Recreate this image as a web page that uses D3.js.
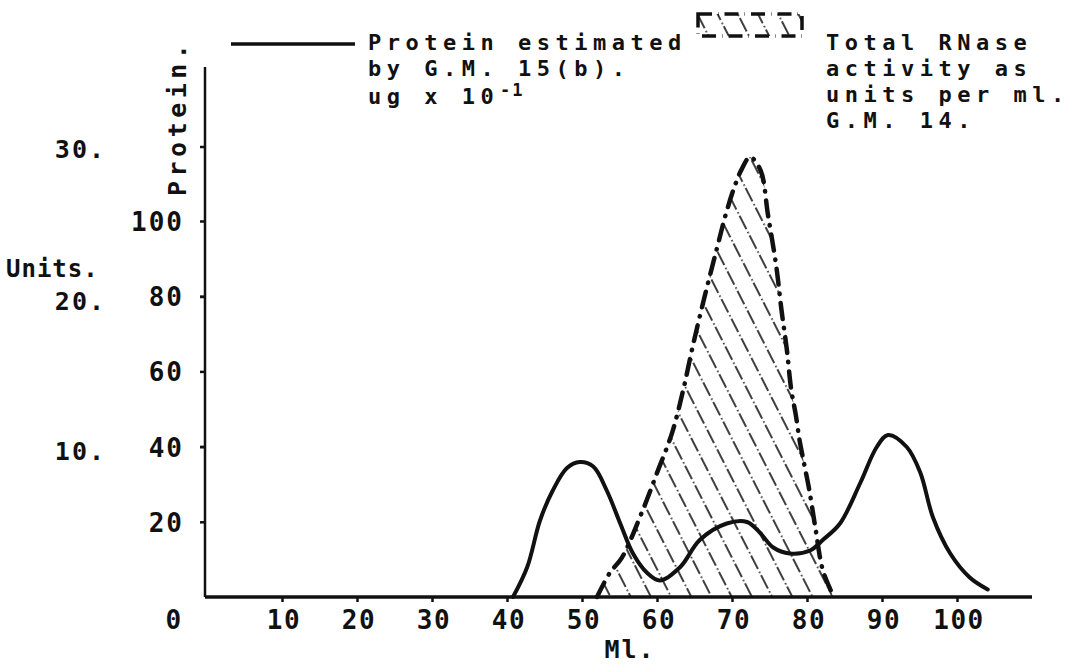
<!DOCTYPE html>
<html><head><meta charset="utf-8">
<script src="https://cdn.jsdelivr.net/npm/d3@7"></script>
<style>
body{margin:0;background:#fff;}
svg{display:block;}
text{font-family:"DejaVu Sans Mono",monospace;fill:#111;font-weight:bold;}
</style></head>
<body>
<svg id="chart" width="1071" height="672"></svg>
<script>
// ---- data ----
const proteinMl  = [40.8,42.7,44.4,46.1,48.0,49.7,51.5,53.3,55.1,56.8,58.7,60.4,63.1,65.7,69.3,72.0,73.7,75.5,77.7,80.4,82.1,84.4,87.1,89.3,90.8,93.3,95.1,96.8,99.1,101.7,104.1];
const proteinVal = [0,2.0,5.1,7.1,8.6,9.0,8.7,7.1,4.9,2.9,1.6,1.1,2.0,3.8,4.9,5.0,4.3,3.3,2.9,3.1,3.8,4.9,7.6,10.0,10.8,10.0,8.3,5.3,2.9,1.3,0.5];
const rnaseMl  = [52.0,53.7,55.3,58.1,60.0,62.0,63.5,64.8,66.4,68.0,69.2,70.4,71.3,72.4,73.8,74.8,75.9,76.6,77.3,77.9,78.5,79.0,79.6,80.3,81.1,82.1,83.3,83.5];
const rnaseVal = [0,6.4,10.4,23.1,33.0,43.6,55.1,67.0,80.3,92.8,102.0,109.5,113.8,117.0,113.5,101.6,88.0,76.3,66.0,55.1,48.5,41.8,35.6,28.5,18.6,7.2,1.1,0];
const xTicks = [10,20,30,40,50,60,70,80,90,100];
const unitTicks = [20,40,60,80,100];
const proteinTicks = [10,20,30];
const proteinTickLabels = ["10.","20.","30."];
const legendProteinLines = ["Protein estimated","by G.M. 15(b)."];
const legendRnaseLines = ["Total RNase","activity as","units per ml.","G.M. 14."];

// ---- scales ----
const svg = d3.select("#chart");
const x  = d3.scaleLinear().domain([0,100]).range([207,957]);
const yU = d3.scaleLinear().domain([0,100]).range([597,221]);
const yP = d3.scaleLinear().domain([0,30]).range([597,147]);

// hatch pattern
const defs = svg.append("defs");
const pat = defs.append("pattern").attr("id","hatch").attr("patternUnits","userSpaceOnUse")
  .attr("width",18).attr("height",44).attr("patternTransform","rotate(-27)");
pat.append("line").attr("x1",3).attr("y1",0).attr("x2",3).attr("y2",44)
  .attr("stroke","#000").attr("stroke-width",1.5).attr("stroke-dasharray","15,3,1.5,2.5");

// RNase area + outline
const rn = rnaseMl.map((m,i)=>[m,rnaseVal[i]]);
const area = d3.area().x(d=>x(d[0])).y0(yU(0)).y1(d=>yU(d[1])).curve(d3.curveCatmullRom);
svg.append("path").datum(rn).attr("d",area).attr("fill","url(#hatch)");
const rline = d3.line().x(d=>x(d[0])).y(d=>yU(d[1])).curve(d3.curveCatmullRom);
svg.append("path").datum(rn).attr("d",rline).attr("fill","none").attr("stroke","#111")
  .attr("stroke-width",4.5).attr("stroke-linecap","round").attr("stroke-dasharray","16,9,0.5,9");

// protein curve
const pr = proteinMl.map((m,i)=>[m,proteinVal[i]]);
const pline = d3.line().x(d=>x(d[0])).y(d=>yP(d[1])).curve(d3.curveCatmullRom);
svg.append("path").datum(pr).attr("d",pline).attr("fill","none").attr("stroke","#111")
  .attr("stroke-width",4).attr("stroke-linejoin","round").attr("stroke-linecap","round");

// axes
const xAxis = d3.axisBottom(x).tickValues(xTicks).tickSize(5).tickSizeOuter(0).tickFormat("");
const gx = svg.append("g").attr("transform",`translate(0,${yU(0)})`).call(xAxis);
gx.select(".domain").remove();
gx.selectAll(".tick line").attr("stroke","#111").attr("stroke-width",2.5);
svg.append("line").attr("x1",x(0)-2).attr("x2",x(110)).attr("y1",yU(0)).attr("y2",yU(0))
  .attr("stroke","#111").attr("stroke-width",3.5);
svg.selectAll("text.xt").data(xTicks).join("text").attr("class","xt")
  .attr("x",d=>x(d)+2).attr("y",yU(0)+32).attr("text-anchor","middle")
  .style("font-size","26px").style("letter-spacing","1.5px").text(d=>d);
svg.append("text").attr("x",x(-4.5)).attr("y",yU(0)+32).attr("text-anchor","middle")
  .style("font-size","26px").text("0");

const yAxis = d3.axisLeft(yU).tickValues(unitTicks).tickSize(5).tickSizeOuter(0).tickFormat("");
const gy = svg.append("g").attr("transform",`translate(${x(0)-2},0)`).call(yAxis);
gy.select(".domain").remove();
gy.selectAll(".tick line").attr("stroke","#111").attr("stroke-width",2.5);
svg.append("line").attr("x1",x(0)-2).attr("x2",x(0)-2).attr("y1",yU(0)).attr("y2",67)
  .attr("stroke","#111").attr("stroke-width",2.5);
svg.selectAll("line.pt").data(proteinTicks).join("line").attr("class","pt")
  .attr("x1",x(0)-7).attr("x2",x(0)-2).attr("y1",d=>yP(d)).attr("y2",d=>yP(d))
  .attr("stroke","#111").attr("stroke-width",2.5);
svg.selectAll("text.ut").data(unitTicks).join("text").attr("class","ut")
  .attr("x",184).attr("y",d=>yU(d)+10).attr("text-anchor","end")
  .style("font-size","26px").style("letter-spacing","2px").text(d=>d);
svg.selectAll("text.ptl").data(proteinTicks).join("text").attr("class","ptl")
  .attr("x",106).attr("y",(d,i)=>yP(d)+ (d===30?11:13)).attr("text-anchor","end")
  .style("font-size","25px").style("letter-spacing","2px").text((d,i)=>proteinTickLabels[i]);
svg.append("text").attr("x",6).attr("y",277).style("font-size","24px").style("letter-spacing","1px").text("Units.");
svg.append("text").attr("transform","translate(186,196) rotate(-90)")
  .style("font-size","25px").style("letter-spacing","4.5px").text("Protein.");
svg.append("text").attr("x",630).attr("y",658).attr("text-anchor","middle")
  .style("font-size","25px").style("letter-spacing","2px").text("Ml.");

// legend
svg.append("line").attr("x1",231).attr("x2",355).attr("y1",44).attr("y2",44)
  .attr("stroke","#111").attr("stroke-width",3.5);
const lp = svg.append("g");
lp.selectAll("text").data(legendProteinLines).join("text").attr("x",368).attr("y",(d,i)=>50+i*26)
  .style("font-size","22px").style("letter-spacing","5.5px").text(d=>d);
const l3 = lp.append("text").attr("x",368).attr("y",104).style("font-size","22px").style("letter-spacing","5.5px");
l3.append("tspan").text("ug x 10");
l3.append("tspan").attr("x",500).attr("dy",-8).style("font-size","17px").style("letter-spacing","2px").text("-1");
svg.append("rect").attr("x",698).attr("y",14).attr("width",104).attr("height",22).attr("fill","url(#hatch)");
svg.append("rect").attr("x",698).attr("y",14).attr("width",104).attr("height",22).attr("fill","none")
  .attr("stroke","#111").attr("stroke-width",3.5).attr("stroke-dasharray","14,6,0.5,6");
svg.selectAll("text.lr").data(legendRnaseLines).join("text").attr("class","lr")
  .attr("x",826).attr("y",(d,i)=>50+i*26)
  .style("font-size","22px").style("letter-spacing","5.5px").text(d=>d);
</script>
</body></html>
